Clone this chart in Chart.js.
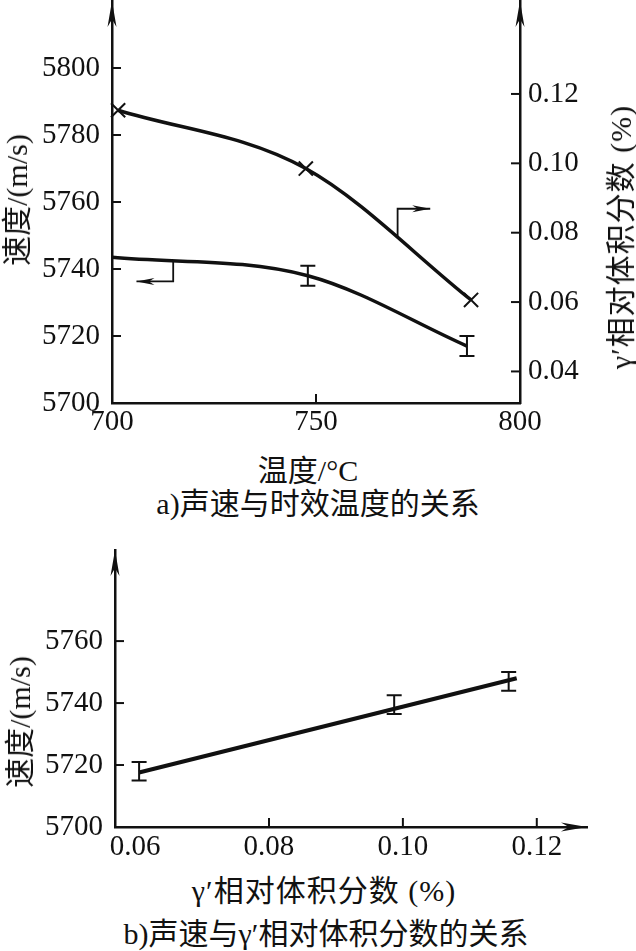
<!DOCTYPE html>
<html>
<head>
<meta charset="utf-8">
<script src="https://cdn.jsdelivr.net/npm/chart.js@4.4.1/dist/chart.umd.min.js"></script>
<style>
  body { margin: 0; background: #fff; width: 636px; height: 951px; position: relative; overflow: hidden;
         font-family: "Liberation Serif", "Noto Sans CJK SC", serif; color: #111; }
  .box { position: absolute; left: 0; width: 636px; }
  .lbl { position: absolute; white-space: nowrap; font-size: 30px; line-height: 1; }
  .ctr { transform: translate(-50%, -50%); }
  .rot { transform: translate(-50%, -50%) rotate(-90deg); }
</style>
</head>
<body>
<div class="box" style="top:0;height:450px"><canvas id="chart-a" width="636" height="450"></canvas></div>
<div class="box" style="top:540px;height:330px"><canvas id="chart-b" width="636" height="330"></canvas></div>

<div class="lbl rot" style="left:17px;top:200px">速度/(m/s)</div>
<div class="lbl rot" style="left:621px;top:237px;letter-spacing:1px">γ′相对体积分数 (%)</div>
<div class="lbl ctr" style="left:308px;top:471px">温度/°C</div>
<div class="lbl ctr" style="left:318px;top:504px">a)声速与时效温度的关系</div>

<div class="lbl rot" style="left:20px;top:722px">速度/(m/s)</div>
<div class="lbl ctr" style="left:324px;top:891px;letter-spacing:1px">γ′相对体积分数 (%)</div>
<div class="lbl ctr" style="left:326px;top:934px">b)声速与γ′相对体积分数的关系</div>

<script>
// ===== a) velocity & γ' fraction vs ageing temperature =====
const tempTicks = [700, 750, 800];
const velTicksA = [5700, 5720, 5740, 5760, 5780, 5800];
const fracTicksA = [0.04, 0.06, 0.08, 0.10, 0.12];

const gammaTemps = [701.5, 747.5, 788];
const gammaFrac = [0.1153, 0.0985, 0.0606];

const velTemps = [700, 748, 787];
const velA = [5743.5, 5738, 5717];
const velErrA = [0, 3, 3];

// leader arrows telling which axis a curve belongs to (data units)
const leadersA = [
  { axis: 'yR', x: 770, yFrom: 0.0790, yTo: 0.0869, xTo: 778 },
  { axis: 'y', x: 715, yFrom: 5742.6, yTo: 5736.3, xTo: 706 }
];

// ===== b) velocity vs γ' fraction =====
const fracTicksB = [0.06, 0.08, 0.10, 0.12];
const velTicksB = [5700, 5720, 5740, 5760];

const fracB = [0.0606, 0.0987, 0.1158];
const velB = [5718, 5739.5, 5747];
const velErrB = [3, 3, 3];

const fitFrac = [0.0606, 0.117];
const fitVel = [5717.6, 5748];

const black = '#111';
const tickFont = { family: "'Liberation Serif', 'Times New Roman', serif", size: 29 };

function pts(xs, ys) {
  return xs.map((x, i) => ({ x, y: ys[i] }));
}

function arrowHead(ctx, x, y, ang, len, half) {
  ctx.save();
  ctx.translate(x, y);
  ctx.rotate(ang);
  ctx.beginPath();
  ctx.moveTo(0, 0);
  ctx.lineTo(-len, -half);
  ctx.lineTo(-len * 0.7, 0);
  ctx.lineTo(-len, half);
  ctx.closePath();
  ctx.fill();
  ctx.restore();
}

// inward ticks, error bars, leader arrows and axis arrow heads
const decor = {
  id: 'decor',
  afterDatasetsDraw(chart, args, opts) {
    const ctx = chart.ctx;
    const area = chart.chartArea;
    ctx.save();
    ctx.strokeStyle = black;
    ctx.fillStyle = black;

    ctx.lineWidth = 2;
    (opts.marks || []).forEach(m => {
      const sc = chart.scales[m.id];
      sc.ticks.forEach((tk, i) => {
        if (m.skipFirst && i === 0) return;
        const p = sc.getPixelForValue(tk.value);
        ctx.beginPath();
        if (m.side === 'left') { ctx.moveTo(area.left, p); ctx.lineTo(area.left + 9, p); }
        else if (m.side === 'right') { ctx.moveTo(area.right, p); ctx.lineTo(area.right - 9, p); }
        else { ctx.moveTo(p, area.bottom); ctx.lineTo(p, area.bottom - 9); }
        ctx.stroke();
      });
    });

    chart.data.datasets.forEach((ds, di) => {
      if (!ds.errorBars) return;
      const meta = chart.getDatasetMeta(di);
      const ys = chart.scales[meta.yAxisID];
      meta.data.forEach((pt, i) => {
        const e = ds.errorBars[i];
        if (!e) return;
        const v = ds.data[i].y;
        const top = ys.getPixelForValue(v + e);
        const bot = ys.getPixelForValue(v - e);
        ctx.lineWidth = 2;
        ctx.beginPath();
        ctx.moveTo(pt.x, top); ctx.lineTo(pt.x, bot);
        ctx.moveTo(pt.x - 7.5, top); ctx.lineTo(pt.x + 7.5, top);
        ctx.moveTo(pt.x - 7.5, bot); ctx.lineTo(pt.x + 7.5, bot);
        ctx.stroke();
      });
    });

    (opts.leaders || []).forEach(l => {
      const xs = chart.scales.x, ys = chart.scales[l.axis];
      const x0 = xs.getPixelForValue(l.x);
      const x1 = xs.getPixelForValue(l.xTo);
      const y0 = ys.getPixelForValue(l.yFrom);
      const y1 = ys.getPixelForValue(l.yTo);
      ctx.lineWidth = 1.8;
      ctx.beginPath();
      ctx.moveTo(x0, y0);
      ctx.lineTo(x0, y1);
      ctx.lineTo(x1, y1);
      ctx.stroke();
      arrowHead(ctx, x1, y1, x1 > x0 ? 0 : Math.PI, 18, 3.5);
    });

    (opts.arrows || []).forEach(a => {
      if (a === 'left') arrowHead(ctx, area.left, area.top, -Math.PI / 2, 26, 4.5);
      if (a === 'right') arrowHead(ctx, area.right, area.top, -Math.PI / 2, 26, 4.5);
      if (a === 'x') arrowHead(ctx, area.right, area.bottom, 0, 26, 4.5);
    });
    ctx.restore();
  }
};

function axis(extra) {
  return Object.assign({
    type: 'linear',
    grid: { display: false, drawTicks: false },
    border: { display: true, color: black, width: 2.5 },
    ticks: { color: black, font: tickFont, maxRotation: 0 }
  }, extra);
}

function setTicks(values) {
  return s => { s.ticks = values.map(v => ({ value: v })); };
}

function fitSize(prop, size) {
  return s => {
    s[prop] = size;
    s.paddingTop = s.paddingBottom = s.paddingLeft = s.paddingRight = 0;
  };
}

const common = {
  responsive: false,
  animation: false,
  devicePixelRatio: 1,
  events: []
};

// ----- chart a -----
new Chart(document.getElementById('chart-a'), {
  type: 'line',
  data: {
    datasets: [{
      data: pts(gammaTemps, gammaFrac),
      yAxisID: 'yR',
      borderColor: black,
      borderWidth: 3.5,
      cubicInterpolationMode: 'monotone',
      pointStyle: 'crossRot',
      pointRadius: 10,
      pointBorderWidth: 2,
      pointBorderColor: black,
      pointBackgroundColor: 'transparent',
      clip: false
    }, {
      data: pts(velTemps, velA),
      yAxisID: 'y',
      borderColor: black,
      borderWidth: 3.5,
      cubicInterpolationMode: 'monotone',
      pointRadius: 0,
      errorBars: velErrA,
      clip: false
    }]
  },
  options: Object.assign({}, common, {
    layout: { autoPadding: false, padding: { top: 1, left: 0, right: 0, bottom: 0 } },
    plugins: {
      legend: { display: false },
      tooltip: { enabled: false },
      decor: {
        marks: [{ id: 'y', side: 'left' }, { id: 'yR', side: 'right' }, { id: 'x', side: 'bottom' }],
        leaders: leadersA,
        arrows: ['left', 'right']
      }
    },
    scales: {
      x: axis({
        position: 'bottom', min: 700, max: 800,
        afterBuildTicks: setTicks(tempTicks),
        afterFit: fitSize('height', 47),
        ticks: { color: black, font: tickFont, padding: 2, maxRotation: 0, callback: v => String(v) }
      }),
      y: axis({
        position: 'left', min: 5700, max: 5820,
        afterBuildTicks: setTicks(velTicksA),
        afterFit: fitSize('width', 112),
        ticks: { color: black, font: tickFont, padding: 12, callback: v => String(v) }
      }),
      yR: axis({
        position: 'right', min: 0.0309, max: 0.1468,
        afterBuildTicks: setTicks(fracTicksA),
        afterFit: fitSize('width', 116),
        ticks: { color: black, font: tickFont, padding: 8, callback: v => v.toFixed(2) }
      })
    }
  }),
  plugins: [decor]
});

// ----- chart b -----
new Chart(document.getElementById('chart-b'), {
  type: 'line',
  data: {
    datasets: [{
      data: pts(fitFrac, fitVel),
      borderColor: black,
      borderWidth: 4,
      pointRadius: 0,
      clip: false
    }, {
      data: pts(fracB, velB),
      showLine: false,
      pointRadius: 0,
      errorBars: velErrB,
      clip: false
    }]
  },
  options: Object.assign({}, common, {
    layout: { autoPadding: false, padding: { top: 10, left: 0, right: 49, bottom: 0 } },
    plugins: {
      legend: { display: false },
      tooltip: { enabled: false },
      decor: {
        marks: [{ id: 'y', side: 'left' }, { id: 'x', side: 'bottom', skipFirst: true }],
        arrows: ['left', 'x']
      }
    },
    scales: {
      x: axis({
        position: 'bottom', min: 0.057, max: 0.1275,
        afterBuildTicks: setTicks(fracTicksB),
        afterFit: fitSize('height', 43),
        ticks: { color: black, font: tickFont, padding: 3, maxRotation: 0, callback: v => v.toFixed(2) }
      }),
      y: axis({
        position: 'left', min: 5700, max: 5789.4,
        afterBuildTicks: setTicks(velTicksB),
        afterFit: fitSize('width', 115),
        ticks: { color: black, font: tickFont, padding: 12, callback: v => String(v) }
      })
    }
  }),
  plugins: [decor]
});
</script>
</body>
</html>
